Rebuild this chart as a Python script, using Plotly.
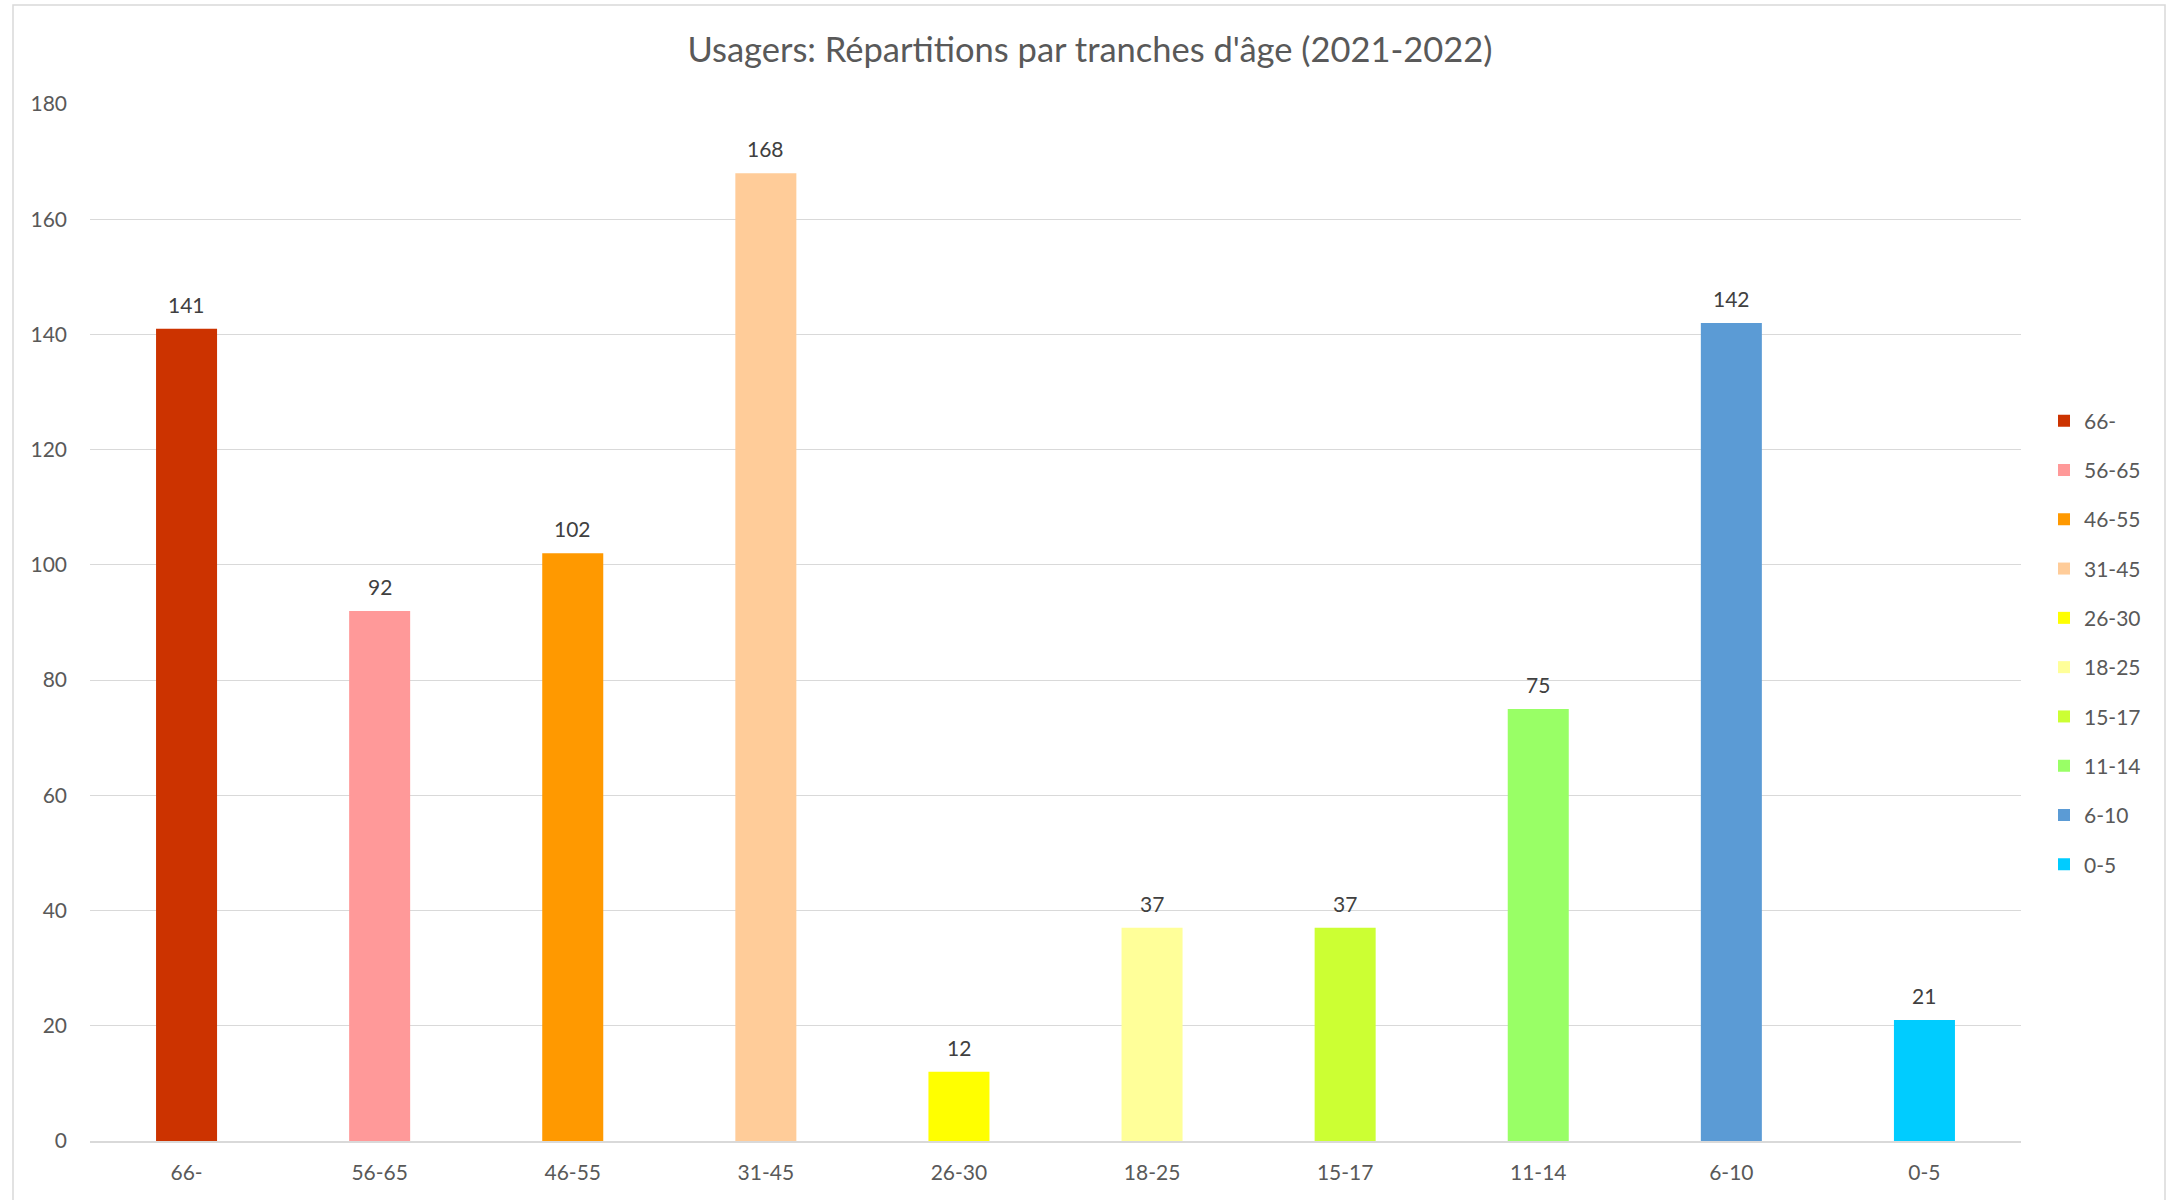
import plotly.graph_objects as go

categories = ["66-", "56-65", "46-55", "31-45", "26-30", "18-25", "15-17", "11-14", "6-10", "0-5"]
values = [141, 92, 102, 168, 12, 37, 37, 75, 142, 21]
colors = ["#CC3300", "#FF9999", "#FF9900", "#FFCC99", "#FFFF00",
          "#FFFF99", "#CCFF33", "#99FF66", "#5B9BD5", "#00CCFF"]
y_ticks = [0, 20, 40, 60, 80, 100, 120, 140, 160, 180]

W, H = 2172, 1200
L, R, T, B = 90, 2021, 104, 1141

fig = go.Figure()
for i, (c, v, col) in enumerate(zip(categories, values, colors)):
    fig.add_trace(go.Bar(
        x=[c], y=[v], name=c, marker_color=col, marker_line_width=0,
        width=0.316, legendgroup="g%d" % i, hoverinfo="x+y",
    ))

annotations = [dict(x=c, y=v, xref="x", yref="y", text=str(v), showarrow=False,
                    yanchor="bottom", yshift=10,
                    font=dict(family="Lato", size=21, color="#404040"))
               for c, v in zip(categories, values)]

pw = R - L
ph = B - T
fig.update_layout(
    width=W, height=H,
    margin=dict(l=L, r=W - R, t=T, b=H - B, autoexpand=False),
    paper_bgcolor="white", plot_bgcolor="white",
    barmode="overlay",
    font=dict(family="Lato", color="#595959"),
    title=dict(text="Usagers: Répartitions par tranches d'âge (2021-2022)",
               x=1090 / W, xref="container", xanchor="center",
               y=1 - 50 / H, yref="container", yanchor="middle",
               font=dict(family="Lato", size=34.5, color="#595959")),
    xaxis=dict(categoryorder="array", categoryarray=categories,
               showgrid=False, showline=True, linecolor="#d9d9d9", linewidth=1.5,
               ticks="", tickfont=dict(size=21, color="#595959"),
               ticklabelstandoff=12, zeroline=False),
    yaxis=dict(range=[0, 180], tickvals=y_ticks, showgrid=True,
               gridcolor="#d9d9d9", gridwidth=1.2, zeroline=False,
               showline=False, ticks="", tickfont=dict(size=21, color="#595959"),
               ticklabelstandoff=22),
    legend=dict(x=(2044 - L) / pw, xanchor="left",
                y=(B - 643) / ph, yanchor="middle",
                tracegroupgap=19, traceorder="grouped",
                font=dict(family="Lato", size=21, color="#595959"),
                bgcolor="rgba(0,0,0,0)"),
    showlegend=True,
    annotations=annotations,
    shapes=[dict(type="rect", xref="paper", yref="paper",
                 x0=(13 - L) / pw, x1=(2165 - L) / pw,
                 y0=(B - 1215) / ph, y1=(B - 5) / ph,
                 line=dict(color="#d9d9d9", width=1.5), fillcolor="rgba(0,0,0,0)",
                 layer="below")],
)

fig.write_html("out.html", config={"displayModeBar": False},
               post_script="document.body.style.margin='0px';document.body.style.overflow='hidden';")
